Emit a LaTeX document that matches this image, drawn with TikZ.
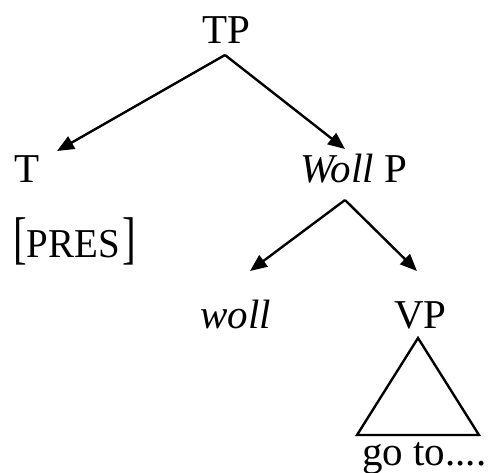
\documentclass[tikz,border=0pt]{standalone}
\usepackage{fontspec}
\setmainfont{Liberation Serif}
\usepackage{graphicx}
\usetikzlibrary{arrows.meta}

\newcommand{\tallbr}[1]{\scalebox{1}[1.4]{#1}}

\begin{document}
\begin{tikzpicture}[x=1pt,y=-1pt,>={Triangle[length=17pt,width=14pt]},
    every node/.style={inner sep=0pt,anchor=base west,
                       font=\fontsize{41}{49}\selectfont},
    branch/.style={line width=2.4pt,->}]

  \useasboundingbox (0,0) rectangle (489,472);

  \begin{scope}   % TP a jeho dcery

    \node (TP)   at (202,43)  {TP};
    \node (T)    at (14,182)  {T};
    \node (WP)   at (300,182) {\textit{Woll} P};
    \node (pres) at (13,257)  {\tallbr{[}\scalebox{0.95}[1]{PRES}\hspace{3pt}\tallbr{]}};

    \coordinate (TP-foot) at (225,55);
    \coordinate (T-top)   at (57,151);
    \coordinate (WP-top)  at (345,149);

    \draw[branch] (TP-foot)--(T-top);
    \draw[branch] (TP-foot)--(WP-top);

  \end{scope}

  \begin{scope}   % Woll P -> woll, VP

    \node (woll) at (200,328) {\textit{woll}};
    \node (VP)   at (394,328) {VP};
    \node (go)   at (362,465) {go to....};

    \coordinate (WP-foot)  at (345,200);
    \coordinate (woll-top) at (250,271);
    \coordinate (VP-top)   at (417,271);

    \draw[branch] (WP-foot)--(woll-top);
    \draw[branch] (WP-foot)--(VP-top);

    % trojuhelnik pod VP
    \coordinate (tri-A) at (418,338);
    \coordinate (tri-B) at (357,435);
    \coordinate (tri-C) at (479,435);
    \draw[line width=2.4pt] (tri-A)--(tri-B)--(tri-C)--cycle;

  \end{scope}

\end{tikzpicture}
\end{document}
